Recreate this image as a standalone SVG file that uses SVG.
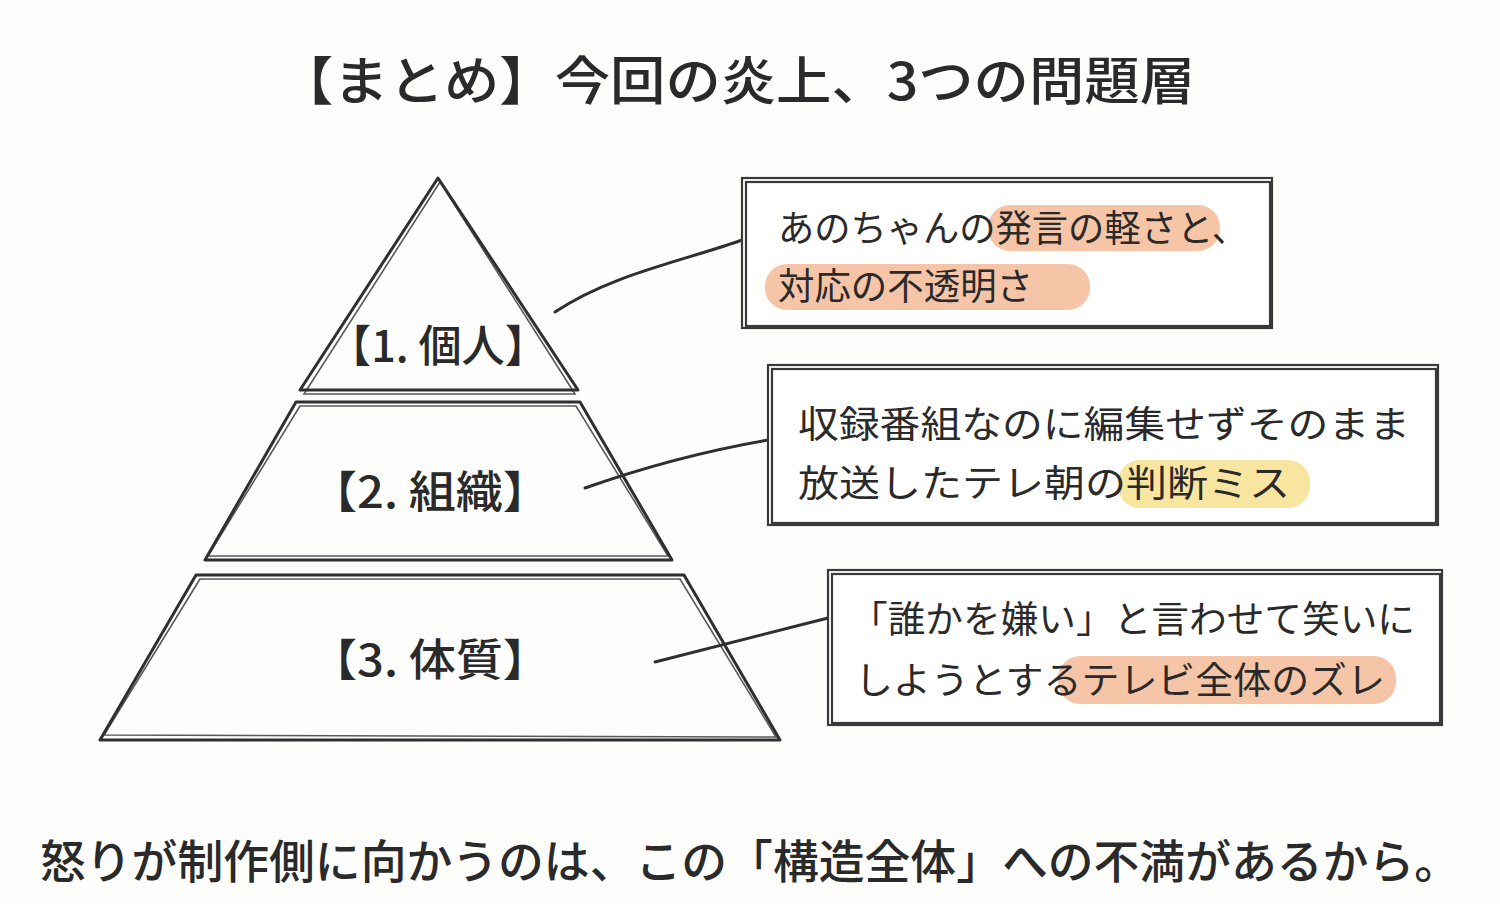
<svg xmlns="http://www.w3.org/2000/svg" width="1500" height="904" viewBox="0 0 1500 904">
<style>
text{font-family:"Noto Sans CJK JP","Noto Sans CJK SC",sans-serif;fill:#2a2a2a}
.t{font-size:52px;font-weight:500}
.lab{font-size:44px;font-weight:500}
.bx{font-size:37px}
.ln{fill:none;stroke:#2f2f2f;stroke-width:3;stroke-linecap:round;stroke-linejoin:round}
.ln2{fill:none;stroke:#2f2f2f;stroke-width:1.6;stroke-linecap:round;opacity:.8}
.box{fill:#fff;stroke:#3a3a3a;stroke-width:2.2}
.or{fill:#f5bb98;opacity:.85}
.ye{fill:#f8e6a0}
</style>
<rect width="1500" height="904" fill="#fdfdfc"/>
<text class="t" x="278" y="100" textLength="917" lengthAdjust="spacingAndGlyphs">【まとめ】今回の炎上、3つの問題層</text>
<g id="pyramid">
<path class="ln" d="M438 178 L300 390 L578 390 Z"/>
<path class="ln2" d="M440 182 L304 394 L575 394 Z"/>
<path class="ln" d="M296 402 L205 560 L672 560 L580 402 Z"/>
<path class="ln2" d="M300 406 L208 556 L668 556 L576 406 Z"/>
<path class="ln" d="M196 575 L100 740 L780 740 L684 575 Z"/>
<path class="ln2" d="M200 579 L104 735 L776 737 L680 579 Z"/>
</g>
<g id="n1"><text class="lab" x="438" y="362" text-anchor="middle" textLength="220" lengthAdjust="spacingAndGlyphs">【1. 個人】</text></g>
<g id="n2"><text class="lab" x="430" y="508" text-anchor="middle" textLength="240" lengthAdjust="spacingAndGlyphs">【2. 組織】</text></g>
<g id="n3"><text class="lab" x="430" y="676" text-anchor="middle" textLength="240" lengthAdjust="spacingAndGlyphs">【3. 体質】</text></g>
<g id="connectors">
<path class="ln" d="M555 312 C610 275 680 262 742 240"/>
<path class="ln" d="M585 488 C650 465 710 450 768 440"/>
<path class="ln" d="M655 662 C720 645 780 630 828 618"/>
</g>
<g id="b1">
<rect class="box" x="742" y="178" width="530" height="150"/>
<rect class="box" x="746" y="182" width="524" height="144" fill="none"/>
<rect class="or" x="988" y="205" width="232" height="46" rx="22"/>
<rect class="or" x="765" y="264" width="325" height="46" rx="22"/>
<text class="bx" x="778" y="242" textLength="470" lengthAdjust="spacingAndGlyphs">あのちゃんの発言の軽さと、</text>
<text class="bx" x="778" y="300" textLength="255" lengthAdjust="spacingAndGlyphs">対応の不透明さ</text>
</g>
<g id="b2">
<rect class="box" x="768" y="365" width="670" height="160"/>
<rect class="box" x="772" y="369" width="664" height="154" fill="none"/>
<rect class="ye" x="1118" y="460" width="192" height="48" rx="22"/>
<text class="bx" x="798" y="438" textLength="612" lengthAdjust="spacingAndGlyphs">収録番組なのに編集せずそのまま</text>
<text class="bx" x="798" y="497" textLength="492" lengthAdjust="spacingAndGlyphs">放送したテレ朝の判断ミス</text>
</g>
<g id="b3">
<rect class="box" x="828" y="570" width="614" height="155"/>
<rect class="box" x="832" y="574" width="608" height="149" fill="none"/>
<rect class="or" x="1058" y="656" width="338" height="48" rx="22"/>
<text class="bx" x="850" y="633" textLength="565" lengthAdjust="spacingAndGlyphs">「誰かを嫌い」と言わせて笑いに</text>
<text class="bx" x="855" y="694" textLength="530" lengthAdjust="spacingAndGlyphs">しようとするテレビ全体のズレ</text>
</g>
<text class="t" x="40" y="878" style="font-size:46px" textLength="1420" lengthAdjust="spacingAndGlyphs">怒りが制作側に向かうのは、この「構造全体」への不満があるから。</text>
</svg>
